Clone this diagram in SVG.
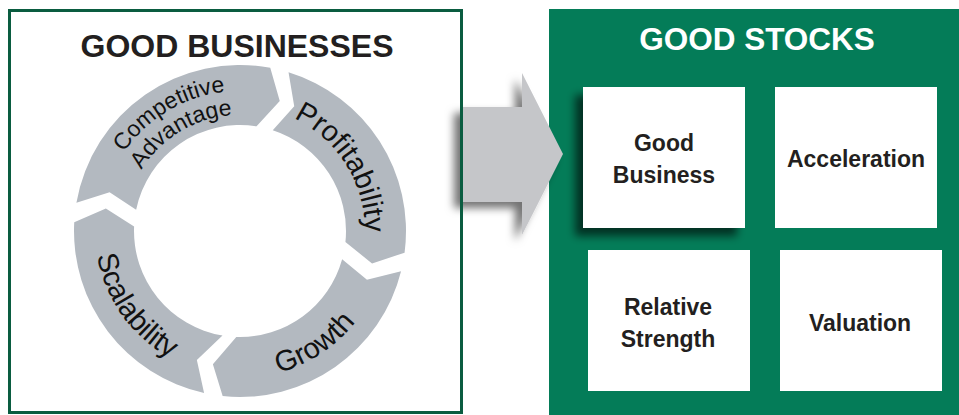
<svg xmlns="http://www.w3.org/2000/svg" width="959" height="415" viewBox="0 0 959 415">
<defs>
<filter id="arrowShadow" x="-30%" y="-30%" width="160%" height="160%">
<feDropShadow dx="-7" dy="6" stdDeviation="4" flood-color="#000" flood-opacity="0.55"/>
</filter>
<filter id="boxShadow" x="-30%" y="-30%" width="160%" height="160%">
<feDropShadow dx="-8" dy="8" stdDeviation="4" flood-color="#000" flood-opacity="0.6"/>
</filter>
<path id="tpCompetitive" d="M101.71,209.10 A140,140 0 0 1 285.58,98.62"/>
<path id="tpAdvantage" d="M125.43,212.85 A116,116 0 0 1 277.77,121.32"/>
<path id="tpProfit" d="M257.40,107.22 A125,125 0 0 1 358.88,269.63"/>
<path id="tpScal" d="M99.62,194.69 A145,145 0 0 0 228.62,375.55"/>
<path id="tpGrowth" d="M198.25,371.95 A147,147 0 0 0 386.05,247.64"/>
</defs>
<style>
.seg{fill:#b3b9c0}
.ring{font-family:"Liberation Sans",Arial,sans-serif;fill:#111;text-anchor:middle}
.title{font-family:"Liberation Sans",Arial,sans-serif;font-weight:bold;text-anchor:middle}
.box{fill:#fff}
.lbl{font-family:"Liberation Sans",Arial,sans-serif;font-weight:bold;font-size:23px;fill:#231f20;text-anchor:middle}
</style>
<rect width="959" height="415" fill="#fff"/>

<g id="good-stocks-panel">
<rect x="549" y="9" width="410" height="406" fill="#047c58"/>
<text class="title" x="757" y="50" font-size="31.5" fill="#fff">GOOD STOCKS</text>
</g>

<g id="connectors">
<polygon points="461,107 522,107 522,73 563,154 522,235 522,202 461,202" fill="#c5c6c9" filter="url(#arrowShadow)"/>
</g>

<g id="good-businesses-panel">
<rect x="9.5" y="10.5" width="452" height="402" fill="none" stroke="#0a5c40" stroke-width="3"/>
<text class="title" x="237" y="57" font-size="32" fill="#231f20">GOOD BUSINESSES</text>
</g>

<g id="seg-competitive-advantage">
<path class="seg" d="M76.42,202.75 A166,166 0 0 1 270.25,67.78 L279.76,100.94 L256.58,126.30 A106,106 0 0 0 136.13,209.87 L109.60,192.37 Z"/>
<text class="ring" font-size="23"><textPath href="#tpCompetitive" startOffset="50%">Competitive</textPath></text>
<text class="ring" font-size="23"><textPath href="#tpAdvantage" startOffset="50%">Advantage</textPath></text>
</g>
<g id="seg-profitability">
<path class="seg" d="M288.53,72.25 A166,166 0 0 1 404.58,252.67 L372.07,263.44 L345.42,242.08 A106,106 0 0 0 272.76,130.19 L294.23,106.28 Z"/>
<text class="ring" font-size="29"><textPath href="#tpProfit" startOffset="50%">Profitability</textPath></text>
</g>
<g id="seg-growth">
<path class="seg" d="M401.07,271.16 A166,166 0 0 1 222.65,396.09 L212.89,364.27 L236.30,336.94 A106,106 0 0 0 342.14,259.33 L366.97,279.74 Z"/>
<text class="ring" font-size="29"><textPath href="#tpGrowth" startOffset="50%">Growth</textPath></text>
</g>
<g id="seg-scalability">
<path class="seg" d="M204.07,393.07 A166,166 0 0 1 74.23,222.31 L105.86,208.55 L134.10,226.38 A106,106 0 0 0 222.50,335.55 L196.85,359.97 Z"/>
<text class="ring" font-size="29"><textPath href="#tpScal" startOffset="50%">Scalability</textPath></text>
</g>

<g id="node-good-business">
<rect class="box" x="583" y="87" width="162" height="141" filter="url(#boxShadow)"/>
<text class="lbl" x="664" y="151">Good</text>
<text class="lbl" x="664" y="183">Business</text>
</g>
<g id="node-acceleration">
<rect class="box" x="775" y="87" width="162" height="141"/>
<text class="lbl" x="856" y="167">Acceleration</text>
</g>
<g id="node-relative-strength">
<rect class="box" x="588" y="250" width="162" height="141"/>
<text class="lbl" x="668" y="315">Relative</text>
<text class="lbl" x="668" y="347">Strength</text>
</g>
<g id="node-valuation">
<rect class="box" x="780" y="250" width="162" height="141"/>
<text class="lbl" x="860" y="331">Valuation</text>
</g>
</svg>
